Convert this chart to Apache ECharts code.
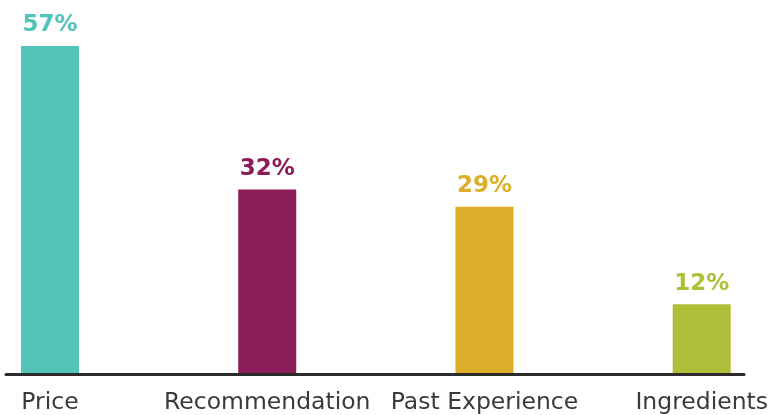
<!DOCTYPE html>
<html>
<head>
<meta charset="utf-8">
<script src="https://cdn.jsdelivr.net/npm/echarts@6/dist/echarts.min.js"></script>
<style>
  html, body { margin: 0; padding: 0; background: #fff; }
  #chart { width: 771px; height: 415px; }
</style>
</head>
<body>
<div id="chart"></div>
<script>
// Purchase drivers, share of respondents (%)
const categories = ['Price', 'Recommendation', 'Past Experience', 'Ingredients'];
const shares = [57, 32, 29, 12];
const barColors = ['#52C3B9', '#8C1D58', '#DCAE2A', '#AFBE38'];

const chart = echarts.init(document.getElementById('chart'), null, { renderer: 'canvas' });

const barData = shares.map((v, i) => ({
  value: v,
  itemStyle: { color: barColors[i] },
  label: { color: barColors[i] }
}));

chart.setOption({
  animation: false,
  grid: [
    { left: 50, right: 66, top: 46, bottom: 41 },
    { left: 6, right: 27, top: 46, bottom: 41 }
  ],
  xAxis: [
    {
      type: 'category',
      gridIndex: 0,
      data: categories,
      boundaryGap: false,
      axisLine: { show: false },
      axisTick: { show: false },
      axisLabel: {
        interval: 0,
        hideOverlap: false,
        color: '#3a3a3a',
        fontFamily: 'DejaVu Sans',
        fontSize: 23.5,
        margin: 18
      }
    },
    {
      type: 'category',
      gridIndex: 1,
      data: [''],
      axisLine: { show: true, lineStyle: { color: '#2b2b2b', width: 3 } },
      axisTick: { show: false },
      axisLabel: { show: false }
    }
  ],
  yAxis: [
    { type: 'value', gridIndex: 0, min: 0, max: 57, show: false },
    { type: 'value', gridIndex: 1, min: 0, max: 57, show: false }
  ],
  series: [
    {
      type: 'bar',
      xAxisIndex: 0,
      yAxisIndex: 0,
      barWidth: 58,
      data: barData,
      label: {
        show: true,
        position: 'top',
        distance: 9,
        formatter: '{c}%',
        fontFamily: 'DejaVu Sans',
        fontWeight: 'bold',
        fontSize: 23
      }
    }
  ]
});
</script>
</body>
</html>
